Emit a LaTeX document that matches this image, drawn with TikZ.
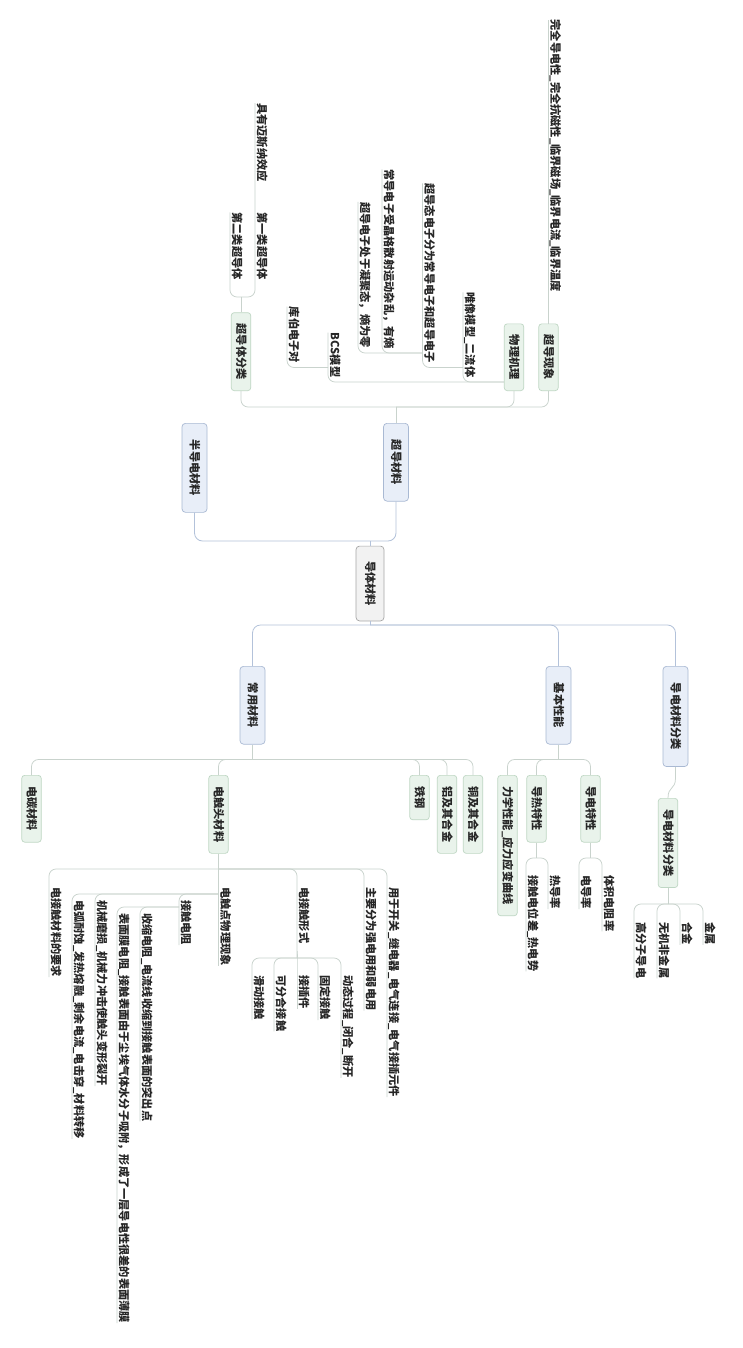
\documentclass[tikz,border=0pt]{standalone}
\usepackage{fontspec}
\setmainfont{Noto Sans CJK SC}
\definecolor{rootfill}{HTML}{F2F2F2}
\definecolor{rootline}{HTML}{A6A6A6}
\definecolor{lonefill}{HTML}{E8EEF8}
\definecolor{loneline}{HTML}{A9B9D3}
\definecolor{ltwofill}{HTML}{E9F3EB}
\definecolor{ltwoline}{HTML}{BFD7C4}
\definecolor{conec}{HTML}{B3C2DA}
\definecolor{ctwoc}{HTML}{C9D3CD}
\definecolor{txtc}{HTML}{262626}
\newcommand{\mapfont}{\bfseries\fontsize{11.2}{11.2}\selectfont}
\tikzset{
  base/.style={font=\mapfont, text=txtc, rotate=-90, text height=0.88em, text depth=0.12em},
  rootbox/.style={base, draw=rootline, fill=rootfill, rounded corners=3.5pt, minimum height=28pt, inner xsep=15pt, inner ysep=0pt, line width=0.7pt},
  lonebox/.style={base, draw=loneline, fill=lonefill, rounded corners=3.5pt, minimum height=25pt, inner xsep=16.5pt, inner ysep=0pt, line width=0.7pt},
  ltwobox/.style={base, draw=ltwoline, fill=ltwofill, rounded corners=3pt, minimum height=19.5pt, inner xsep=11pt, inner ysep=0pt, line width=0.7pt},
  leafdn/.style={base, inner xsep=0pt, inner ysep=1.5pt, anchor=south west},
  leafup/.style={base, inner xsep=0pt, inner ysep=1.5pt, anchor=south east},
  cone/.style={draw=conec, line width=0.8pt, rounded corners=8pt},
  ctwo/.style={draw=ctwoc, line width=0.75pt, rounded corners=7pt}
}
\begin{document}
\begin{tikzpicture}[x=1pt, y=-1pt]
\fill[white] (0,0) rectangle (742,1348);
\useasboundingbox (0,0) rectangle (742,1348);

% root
\node[rootbox] (C) at (370,583.5) {导体材料};

% level 1
\node[lonebox, anchor=west] (SC) at (396,423) {超导材料};
\node[lonebox, anchor=west] (SEMI) at (194.5,423) {半导电材料};
\node[lonebox, anchor=west] (CY) at (252.5,666) {常用材料};
\node[lonebox, anchor=west] (JB) at (558.5,666) {基本性能};
\node[lonebox, anchor=west] (DL) at (675.5,666) {导电材料分类};

\coordinate (J0) at (370,541);
\coordinate (J1) at (370,625);
\draw[cone] (C.west) -- (J0);
\draw[cone] (J0) -| (SC.east);
\draw[cone] (J0) -| (SEMI.east);
\draw[cone] (C.east) -- (J1);
\draw[cone] (J1) -| (CY.west);
\draw[cone] (J1) -| (JB.west);
\draw[cone] (J1) -| (DL.west);

% upward level 2
\node[ltwobox, anchor=east] (SCF) at (241,391) {超导体分类};
\node[ltwobox, anchor=east] (WL) at (514,391) {物理机理};
\node[ltwobox, anchor=east] (XX) at (548.5,391) {超导现象};
\coordinate (J2) at (396,407);
\draw[ctwo] (SC.west) -- (J2);
\draw[ctwo] (J2) -| (SCF.east);
\draw[ctwo] (J2) -| (WL.east);
\draw[ctwo] (J2) -| (XX.east);

% 超导现象
\node[leafup] (WQ) at (548.5,292) {完全导电性\_完全抗磁性\_临界磁场\_临界电流\_临界温度};
\draw[ctwo] (XX.west) -- (WQ.south west);

% 超导体分类
\coordinate (J3) at (241,297);
\draw[ctwo] (SCF.west) -- (J3);
\node[leafup] (DE) at (230,280) {第二类超导体};
\node[leafup] (DY) at (255,280) {第一类超导体};
\node[leafup] (MS) at (255,182) {具有迈斯纳效应};
\draw[ctwo] (J3) -| (DE.south west);
\draw[ctwo] (J3) -| (DY.south west) -- (MS.south west);

% 物理机理
\coordinate (J4) at ([yshift=9pt]WL.south east);
\node[leafup] (WX) at (463,377.5) {唯像模型\_二流体};
\node[leafup] (BCS) at (328,377.5) {BCS模型};
\draw[ctwo] (J4) -| (WX.south west);
\draw[ctwo] (J4) -| (BCS.south west);
\coordinate (J5) at ([yshift=10pt]WX.south east);
\node[leafup] (CD) at (422.5,363) {超导态电子分为常导电子和超导电子};
\draw[ctwo] (J5) -| (CD.south west);
\coordinate (J6) at ([yshift=10pt]CD.south east);
\node[leafup] (CH) at (382,349) {常导电子受晶格散射运动杂乱，有熵};
\node[leafup] (CN) at (358,348) {超导电子处于凝聚态，熵为零};
\draw[ctwo] (J6) -| (CH.south west);
\draw[ctwo] (J6) -| (CN.south west);
\coordinate (J7) at ([yshift=10pt]BCS.south east);
\node[leafup] (KB) at (287,363) {库伯电子对};
\draw[ctwo] (J7) -| (KB.south west);

% 常用材料
\coordinate (J8) at (252.5,759.5);
\draw[ctwo] (CY.east) -- (J8);
\node[ltwobox, anchor=west] (DTC) at (31.5,775) {电碳材料};
\node[ltwobox, anchor=west] (DT) at (218.5,775) {电触头材料};
\node[ltwobox, anchor=west] (TG) at (419.5,775) {铁钢};
\node[ltwobox, anchor=west] (LJ) at (447,775) {铝及其合金};
\node[ltwobox, anchor=west] (TJ) at (473,775) {铜及其合金};
\foreach \n in {DTC,DT,TG,LJ,TJ} \draw[ctwo] (J8) -| (\n.west);

% 基本性能
\coordinate (J9) at (558.5,759.5);
\draw[ctwo] (JB.east) -- (J9);
\node[ltwobox, anchor=west] (LX) at (507.5,775) {力学性能\_应力应变曲线};
\node[ltwobox, anchor=west] (DR) at (536.5,775) {导热特性};
\node[ltwobox, anchor=west] (DD) at (590.5,775) {导电特性};
\foreach \n in {LX,DR,DD} \draw[ctwo] (J9) -| (\n.west);

\coordinate (J10) at (536.5,858);
\draw[ctwo] (DR.east) -- (J10);
\node[leafdn] (RD) at (526,875) {接触电位差\_热电势};
\node[leafdn] (RL) at (548,875) {热导率};
\draw[ctwo] (J10) -| (RD.south east);
\draw[ctwo] (J10) -| (RL.south east);

\coordinate (J11) at (590.5,858);
\draw[ctwo] (DD.east) -- (J11);
\node[leafdn] (DDL) at (579,875) {电导率};
\node[leafdn] (TZ) at (602,875) {体积电阻率};
\draw[ctwo] (J11) -| (DDL.south east);
\draw[ctwo] (J11) -| (TZ.south east);

% 导电材料分类
\node[ltwobox, anchor=west] (DL2) at (668,798) {导电材料分类};
\coordinate (DLa) at (675.5,778);
\draw[ctwo, rounded corners=0pt] (DL.east) -- (DLa) .. controls (675.5,790) and (668,786) .. (DL2.west);
\coordinate (J12) at (668,904);
\draw[ctwo] (DL2.east) -- (J12);
\node[leafdn] (GF) at (634,922) {高分子导电};
\node[leafdn] (WJ) at (657,922) {无机非金属};
\node[leafdn] (HJ) at (680,922) {合金};
\node[leafdn] (JS) at (703,922) {金属};
\foreach \n in {GF,WJ,HJ,JS} \draw[ctwo] (J12) -| (\n.south east);

% 电触头材料
\coordinate (J13) at (218.5,869);
\draw[ctwo] (DT.east) -- (J13);
\node[leafdn] (YQ) at (49,887) {电接触材料的要求};
\node[leafdn] (DP) at (218.5,887) {电触点物理现象};
\node[leafdn] (XS) at (297,887) {电接触形式};
\node[leafdn] (QR) at (364,887) {主要分为强电用和弱电用};
\node[leafdn] (YY) at (387,887) {用于开关\_继电器\_电气连接\_电气接插元件};
\draw[ctwo] (J13) -| (YQ.south east);
\draw[ctwo] (J13) -| (DP.south east);
\draw[ctwo] (J13) -| (QR.south east);
\draw[ctwo] (J13) -| (YY.south east);

% 电触点物理现象
\coordinate (J14) at ([yshift=-7pt]DP.south west);
\node[leafdn] (JZ) at (179,900) {接触电阻};
\node[leafdn] (JX) at (95,900) {机械磨损\_机械力冲击使触头变形裂开};
\node[leafdn] (DH) at (72,900) {电弧耐蚀\_发热熔融\_剩余电流\_电击穿\_材料转移};
\draw[ctwo] (J14) -| (JZ.south east);
\draw[ctwo] (J14) -| (JX.south east);
\draw[ctwo] (J14) -| (DH.south east);

% 接触电阻
\coordinate (J15) at ([yshift=-7pt]JZ.south west);
\node[leafdn] (SS) at (140,913) {收缩电阻\_电流线收缩到接触表面的突出点};
\node[leafdn] (BM) at (117,913) {表面膜电阻\_接触表面由于尘埃气体水分子吸附，形成了一层导电性很差的表面薄膜};
\draw[ctwo] (J15) -| (SS.south east);
\draw[ctwo] (J15) -| (BM.south east);

% 电接触形式
\coordinate (J16) at (297,958);
\draw[ctwo] (J13) -| (XS.south east) -- (J16);
\node[leafdn] (HD) at (252,975) {滑动接触};
\node[leafdn] (KF) at (274,975) {可分合接触};
\node[leafdn] (JC) at (297,975) {接插件};
\node[leafdn] (GD) at (318,975) {固定接触};
\node[leafdn] (DG) at (341,975) {动态过程\_闭合\_断开};
\foreach \n in {HD,KF,JC,GD,DG} \draw[ctwo] (J16) -| (\n.south east);
\end{tikzpicture}
\end{document}
